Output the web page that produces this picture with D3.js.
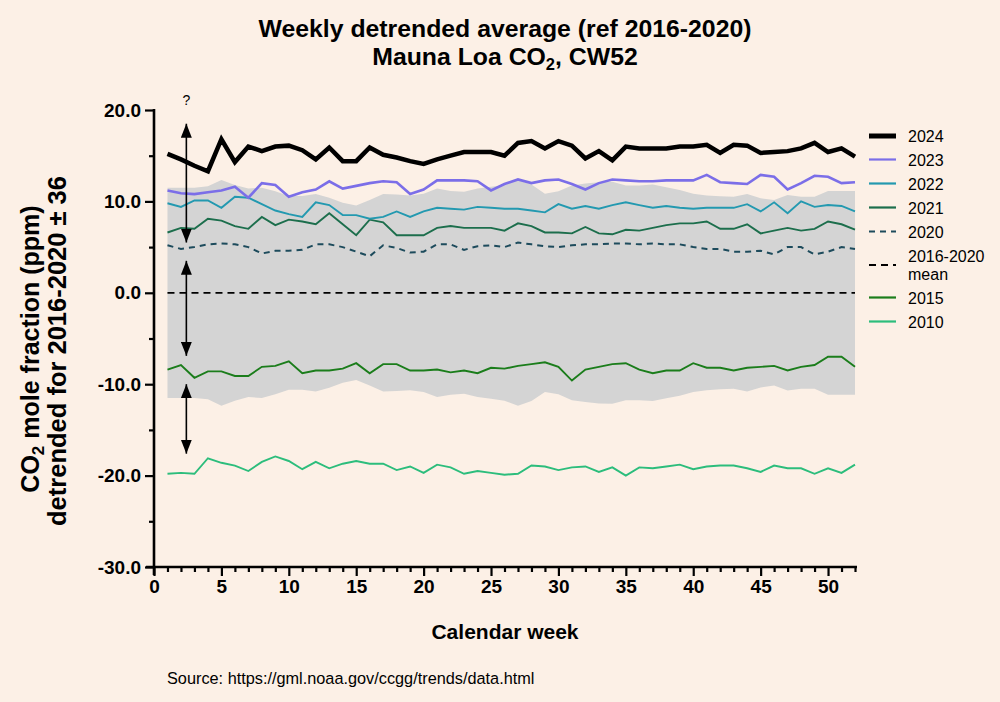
<!DOCTYPE html>
<html>
<head>
<meta charset="utf-8">
<script src="https://cdn.jsdelivr.net/npm/d3@7"></script>
<style>
  html, body { margin: 0; padding: 0; background: #fcf0e6; }
  svg { display: block; }
  text { font-family: "Liberation Sans", Arial, sans-serif; }
</style>
</head>
<body>
<svg id="chart" width="1000" height="702"></svg>
<script>
// ---------- data ----------
const weeks = [1,2,3,4,5,6,7,8,9,10,11,12,13,14,15,16,17,18,19,20,21,22,23,24,25,26,
  27,28,29,30,31,32,33,34,35,36,37,38,39,40,41,42,43,44,45,46,47,48,49,50,51,52];

const y2024 = [15.2,14.6,13.9,13.3,16.8,14.3,16.0,15.5,16.0,16.1,15.6,14.6,15.9,14.4,14.4,15.9,15.1,14.8,14.4,14.1,
  14.6,15.0,15.4,15.4,15.4,15.0,16.4,16.6,15.8,16.6,16.1,14.7,15.5,14.5,16.0,15.8,15.8,15.8,16.0,16.0,
  16.2,15.3,16.2,16.1,15.3,15.4,15.5,15.8,16.4,15.4,15.8,14.9];
const y2023 = [11.2,10.9,10.8,11.0,11.2,11.6,10.4,12.0,11.8,10.5,11.0,11.3,12.2,11.4,11.7,12.0,12.2,12.1,10.8,11.3,
  12.3,12.3,12.3,12.2,11.2,11.9,12.4,12.0,12.3,12.4,11.9,11.3,12.0,12.4,12.3,12.2,12.2,12.3,12.3,12.3,
  12.9,12.1,12.0,11.9,12.9,12.7,11.3,12.0,12.8,12.7,12.0,12.1];
const y2022 = [9.8,9.4,10.1,10.1,9.3,10.5,10.4,9.7,9.0,8.6,8.3,9.9,9.6,8.5,8.5,8.1,8.3,8.9,8.3,8.9,
  9.3,9.2,9.1,9.4,9.3,9.2,9.2,9.0,8.8,9.7,9.2,9.5,9.2,9.6,9.9,9.6,9.3,9.5,9.3,9.2,
  9.3,9.3,9.3,9.7,8.9,9.9,8.7,10.0,9.4,9.6,9.5,8.9];
const y2021 = [6.6,7.1,7.0,8.1,7.9,7.3,7.0,8.3,7.4,8.0,7.8,7.5,8.7,7.5,6.3,8.0,7.7,6.3,6.3,6.3,
  7.1,7.3,7.1,7.1,7.1,6.8,7.6,7.3,6.6,6.6,6.5,7.2,6.5,6.4,6.9,6.8,7.1,7.4,7.6,7.6,
  7.8,7.0,7.0,7.5,6.5,6.8,7.1,6.8,7.0,7.8,7.5,6.9];
const y2020 = [5.2,4.8,5.0,5.3,5.4,5.3,5.0,4.3,4.6,4.6,4.7,5.3,5.3,5.0,4.5,4.0,5.2,4.9,4.4,4.5,
  5.3,5.3,4.7,5.1,5.2,5.0,5.5,5.3,5.1,5.0,5.2,5.3,5.3,5.4,5.4,5.3,5.4,5.3,5.3,5.0,
  4.8,4.8,4.5,4.5,4.6,4.2,5.0,5.0,4.2,4.5,5.0,4.8];
const meanWeeks = [1, 52];
const meanValues = [0, 0];
const y2015 = [-8.4,-7.9,-9.3,-8.6,-8.6,-9.1,-9.1,-8.1,-8.0,-7.5,-8.8,-8.5,-8.5,-8.3,-7.7,-8.8,-7.8,-7.8,-8.5,-8.5,
  -8.4,-8.7,-8.5,-8.8,-8.2,-8.3,-8.0,-7.8,-7.6,-8.1,-9.6,-8.4,-8.1,-7.8,-7.7,-8.4,-8.8,-8.5,-8.5,-7.7,
  -8.2,-8.2,-8.5,-8.2,-8.1,-8.0,-8.5,-8.1,-7.9,-7.0,-7.0,-8.1];
const y2010 = [-19.8,-19.7,-19.8,-18.1,-18.6,-18.9,-19.5,-18.5,-17.9,-18.4,-19.3,-18.5,-19.2,-18.7,-18.4,-18.7,-18.7,-19.4,-19.0,-19.7,
  -18.8,-19.1,-19.8,-19.5,-19.7,-19.9,-19.8,-18.9,-19.0,-19.4,-19.1,-19.0,-19.6,-19.1,-20.0,-19.1,-19.2,-19.0,-18.8,-19.3,
  -19.0,-18.9,-18.9,-19.2,-19.6,-18.9,-19.2,-19.2,-19.8,-19.2,-19.7,-18.8];
// 3-sigma half width of the 2016-2020 band
const band3s = [11.5,11.5,11.5,11.65,12.35,11.8,11.4,11.5,11.1,10.6,10.6,10.8,10.4,9.85,9.55,10.15,10.8,10.75,10.65,10.85,
  11.4,11.15,11.05,11.4,11.6,11.8,12.35,11.85,10.85,11.1,11.75,11.95,12.1,12.15,11.75,11.75,11.85,11.55,11.25,10.85,
  10.65,10.55,10.5,10.8,10.35,10.15,10.7,10.5,10.5,11.15,11.15,11.15];

// double arrows (week, from, to)
const arrowWeek = 2.4;
const arrowFrom = [18.5, 3.5, -10.0];
const arrowTo   = [5.5, -6.9, -17.6];

const xMajorTicks = [0,5,10,15,20,25,30,35,40,45,50];
const yMajorTicks = [-30,-20,-10,0,10,20];
const yMinorTicks = [-25,-15,-5,5,15];

const seriesNames = ["2024","2023","2022","2021","2020","2016-2020 mean","2015","2010"];

// ---------- layout ----------
const svg = d3.select("#chart");
const x = d3.scaleLinear().domain([0, 52]).range([154, 855]);
const y = d3.scaleLinear().domain([-30, 20]).range([567, 110]);

svg.append("rect").attr("width", 1000).attr("height", 702).attr("fill", "#fcf0e6");

// band
const area = d3.area().x((d, i) => x(weeks[i])).y0((d) => y(-d)).y1((d) => y(d));
svg.append("path").datum(band3s).attr("d", area).attr("fill", "#d4d4d4");

const line = d3.line().x((d, i) => x(weeks[i])).y((d) => y(d));

const styles = [
  { name: "2024", data: y2024, color: "#000000", width: 4.5, dash: null },
  { name: "2023", data: y2023, color: "#7b6ee8", width: 2.6, dash: null },
  { name: "2022", data: y2022, color: "#2399b0", width: 1.9, dash: null },
  { name: "2021", data: y2021, color: "#1c6e4c", width: 1.9, dash: null },
  { name: "2020", data: y2020, color: "#1d4b5c", width: 2.0, dash: "6,5" },
  { name: "2016-2020 mean", data: null, color: "#000000", width: 1.8, dash: "7,5" },
  { name: "2015", data: y2015, color: "#1b7d1b", width: 1.9, dash: null },
  { name: "2010", data: y2010, color: "#2cbd7c", width: 1.9, dash: null }
];

// mean line
const meanLine = d3.line().x((d, i) => x(meanWeeks[i])).y((d) => y(d));
svg.append("path").datum(meanValues).attr("d", meanLine)
  .attr("fill", "none").attr("stroke", "#000").attr("stroke-width", 1.8).attr("stroke-dasharray", "7,5");

// draw series in back-to-front order
["2010","2015","2020","2021","2022","2023","2024"].forEach(n => {
  const s = styles.find(t => t.name === n);
  svg.append("path").datum(s.data).attr("d", line)
    .attr("fill", "none").attr("stroke", s.color).attr("stroke-width", s.width)
    .attr("stroke-linejoin", "miter").attr("stroke-dasharray", s.dash);
});

// arrows
const defs = svg.append("defs");
defs.append("marker").attr("id", "ah").attr("viewBox", "0 0 14 11")
  .attr("refX", 14).attr("refY", 5.5).attr("markerWidth", 14).attr("markerHeight", 11)
  .attr("markerUnits", "userSpaceOnUse").attr("orient", "auto-start-reverse")
  .append("path").attr("d", "M0,0 L14,5.5 L0,11 Z").attr("fill", "#000");

arrowFrom.forEach((f, i) => {
  svg.append("line")
    .attr("x1", x(arrowWeek)).attr("x2", x(arrowWeek))
    .attr("y1", y(f)).attr("y2", y(arrowTo[i]))
    .attr("stroke", "#000").attr("stroke-width", 1.6)
    .attr("marker-start", "url(#ah)").attr("marker-end", "url(#ah)");
});
svg.append("text").attr("x", x(arrowWeek)).attr("y", 105)
  .attr("text-anchor", "middle").attr("font-size", 14).text("?");

// axes
const fmt = d => d.toFixed(1);
const yAxis = svg.append("g").attr("transform", "translate(154,0)")
  .call(d3.axisLeft(y).tickValues(yMajorTicks).tickFormat(fmt).tickSize(9).tickPadding(4));
const yMinor = svg.append("g").attr("transform", "translate(154,0)")
  .call(d3.axisLeft(y).tickValues(yMinorTicks).tickFormat("").tickSize(5));
const xAxis = svg.append("g").attr("transform", "translate(0,567)")
  .call(d3.axisBottom(x).tickValues(xMajorTicks).tickFormat(d => d).tickSize(9).tickPadding(4));
const xMinorVals = weeks.filter(w => w % 5 !== 0);
const xMinor = svg.append("g").attr("transform", "translate(0,567)")
  .call(d3.axisBottom(x).tickValues(xMinorVals).tickFormat("").tickSize(5));

[yAxis, yMinor, xAxis, xMinor].forEach(g => {
  g.select(".domain").remove();
  g.selectAll("line").attr("stroke", "#000").attr("stroke-width", 2.2);
});
yAxis.selectAll("text").attr("font-size", 19).attr("font-weight", "bold").attr("fill", "#000")
  .attr("font-family", "Liberation Sans, Arial, sans-serif");
xAxis.selectAll("text").attr("font-size", 19).attr("font-weight", "bold").attr("fill", "#000")
  .attr("font-family", "Liberation Sans, Arial, sans-serif");

// axis lines
svg.append("line").attr("x1", 154).attr("x2", 154).attr("y1", 109).attr("y2", 575)
  .attr("stroke", "#000").attr("stroke-width", 2.6);
svg.append("line").attr("x1", 146).attr("x2", 857).attr("y1", 567).attr("y2", 567)
  .attr("stroke", "#000").attr("stroke-width", 2.6);

// titles
const title = svg.append("text").attr("x", 505).attr("text-anchor", "middle")
  .attr("font-weight", "bold").attr("font-size", 24.8);
title.append("tspan").attr("x", 505).attr("y", 37).text("Weekly detrended average (ref 2016-2020)");
const t2 = title.append("tspan").attr("x", 505).attr("y", 65);
t2.append("tspan").text("Mauna Loa CO");
t2.append("tspan").attr("font-size", 16.5).attr("dy", 5).text("2");
t2.append("tspan").attr("dy", -5).text(", CW52");

svg.append("text").attr("x", 505).attr("y", 639).attr("text-anchor", "middle")
  .attr("font-weight", "bold").attr("font-size", 21).text("Calendar week");

const yl = svg.append("text").attr("transform", "translate(39,349) rotate(-90)")
  .attr("text-anchor", "middle").attr("font-weight", "bold").attr("font-size", 25);
yl.append("tspan").text("CO");
yl.append("tspan").attr("font-size", 17).attr("dy", 5).text("2");
yl.append("tspan").attr("dy", -5).text(" mole fraction (ppm)");
svg.append("text").attr("transform", "translate(66,351) rotate(-90)")
  .attr("text-anchor", "middle").attr("font-weight", "bold").attr("font-size", 25.5)
  .text("detrended for 2016-2020 \u00b1 36");

svg.append("text").attr("x", 167).attr("y", 684).attr("font-size", 16.3)
  .text("Source: https://gml.noaa.gov/ccgg/trends/data.html");

// legend
const legendRows = [136, 159.5, 183.5, 207.5, 231.5, 265, 297.5, 321.5];
styles.forEach((s, i) => {
  const cy = legendRows[i];
  svg.append("line").attr("x1", 869).attr("x2", 896).attr("y1", cy).attr("y2", cy)
    .attr("stroke", s.color).attr("stroke-width", s.name === "2024" ? 5 : 2.2)
    .attr("stroke-dasharray", s.dash);
  if (s.name === "2016-2020 mean") {
    svg.append("text").attr("x", 908).attr("y", cy - 3).attr("font-size", 16).text("2016-2020");
    svg.append("text").attr("x", 908).attr("y", cy + 15).attr("font-size", 16).text("mean");
  } else {
    svg.append("text").attr("x", 908).attr("y", cy + 6).attr("font-size", 16).text(s.name);
  }
});
</script>
</body>
</html>
